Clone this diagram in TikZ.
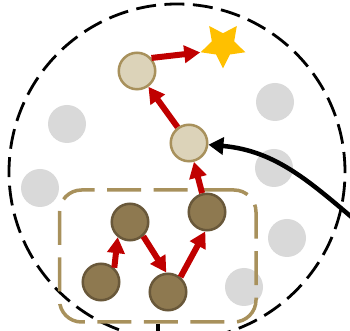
\documentclass[tikz,border=0pt]{standalone}
\usepackage{color}
\definecolor{myred}{RGB}{192,0,0}
\definecolor{mygold}{RGB}{255,192,0}
\definecolor{mytan}{RGB}{168,145,92}
\definecolor{mysand}{RGB}{220,211,185}
\definecolor{mybrown}{RGB}{142,121,80}
\definecolor{mydarkbrown}{RGB}{105,88,58}
\definecolor{mygray}{RGB}{217,217,217}
\usepackage{tikz}
\usetikzlibrary{arrows.meta,shapes.geometric,positioning}

\begin{document}
\begin{tikzpicture}[
  x=1pt, y=1pt,
  myfield/.style={
    draw,
    circle,
    line width=2.8pt,
    dash pattern=on 20pt off 8.5pt,
    minimum size=336pt,
    inner sep=0pt
    },
  mygroup/.style={
    draw=mytan,
    rectangle,
    rounded corners=22pt,
    line width=3.5pt,
    dash pattern=on 34pt off 12.5pt,
    minimum width=196.5pt,
    minimum height=132pt,
    inner sep=0pt
    },
  myidle/.style={circle, fill=mygray, minimum size=38pt, inner sep=0pt},
  myopen/.style={circle, draw=mytan, line width=2.5pt, fill=mysand,
    minimum size=36.5pt, inner sep=0pt},
  mydone/.style={circle, draw=mydarkbrown, line width=2.5pt, fill=mybrown,
    minimum size=36.5pt, inner sep=0pt},
  mygoal/.style={star, star points=5, star point ratio=2.0, fill=mygold,
    minimum size=47pt, inner sep=0pt, shape border rotate=180},
  mystep/.style={myred, line width=6pt, -{Triangle[length=16pt,width=17pt]}},
  mypull/.style={black, line width=4.5pt, -{Triangle[length=15pt,width=17pt]}}
]
\useasboundingbox (0,0) rectangle (350,331);

% search area and the cells nobody visited
\node [myfield] (field) at (177,159) {};
\node [myidle] (g1) at (67,207) {};
\node [myidle] (g2) at (275,229) {};
\node [myidle] (g3) at (40,143) {};
\node [myidle] (g4) at (274,163) {};
\node [myidle] (g5) at (287,93) {};
\node [myidle] (g6) at (244,44) {};

\node [mygroup] (group) at (157.75,75) {};

% path cells
\node [myopen] (b) at (189,188) {};
\node [myopen] (a) at (137,260) {};
\node [mygoal] (goal) at (223,286) {};
\node [mydone] (d1) at (130,109) {};
\node [mydone] (d2) at (207,119) {};
\node [mydone] (d3) at (101,49) {};
\node [mydone] (d4) at (168,39) {};

\coordinate (src) at (368,100);
\coordinate (tail) at (157.75,-12);

\draw [mypull] (src) to [out=140, in=-5] (b);
\draw [line width=4.5pt] (group.south) -- (tail);

\draw [mystep] (d3.47) -- (d1.231);
\draw [mystep] (d1.-47) -- (d4.95);
\draw [mystep] (d4.50) -- (d2.265);
\draw [mystep] (d2) -- (b);
\draw [mystep] (b) -- (a);
\draw [mystep] (a.42) -- (goal.outer point 5);

\end{tikzpicture}
\end{document}
